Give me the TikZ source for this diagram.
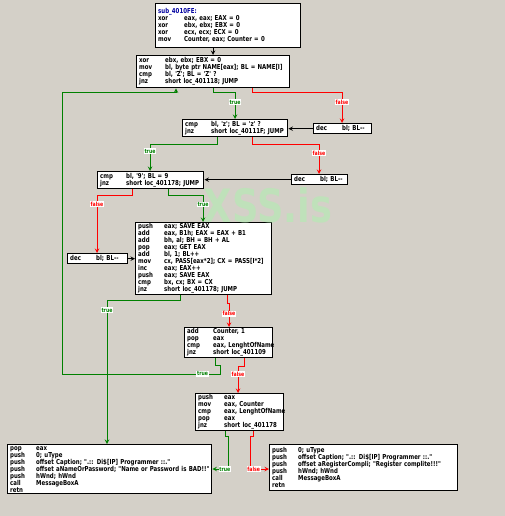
\documentclass[tikz,border=0pt]{standalone}
\usepackage{fontspec}
\usepackage{tikz}
\usepackage{xcolor}
\newfontfamily\idafont[FakeStretch=0.8]{DejaVu Sans}
\newcommand{\asmln}[2]{\makebox[26pt][l]{#1}\mbox{#2}}
\definecolor{idagray}{RGB}{212,208,200}
\definecolor{idagreen}{RGB}{0,128,0}
\definecolor{idared}{RGB}{255,0,0}
\definecolor{idablue}{RGB}{0,0,160}
\definecolor{idamint}{RGB}{175,240,175}

\begin{document}
\begin{tikzpicture}[x=1pt,y=-1pt,>=stealth]
	\tikzstyle{block} = [draw=black, line width=1.4, fill=white, anchor=north west, align=left, inner xsep=2.5pt, inner ysep=1pt, font=\idafont\bfseries\fontsize{6.8}{7}\selectfont]
	\tikzstyle{yes} = [draw=idagreen, line width=1, ->]
	\tikzstyle{no} = [draw=idared, line width=1, ->]
	\tikzstyle{flow} = [draw=black, line width=1, ->]
	\tikzstyle{tag} = [fill=white, inner sep=0.7pt, font=\idafont\bfseries\fontsize{5.8}{6}\selectfont]
	\fill[idagray] (0,0) rectangle (505,516);

		\node[block, text width=140, minimum height=44] (start) at (155,3) {{\color{idablue}sub\_4010FE:}\\
			\asmln{xor}{eax, eax; EAX = 0}\\
			\asmln{xor}{ebx, ebx; EBX = 0}\\
			\asmln{xor}{ecx, ecx; ECX = 0}\\
			\asmln{mov}{Counter, eax; Counter = 0}};
		\node[block, text width=148, minimum height=32] (cmpZ) at (136,55) {\asmln{xor}{ebx, ebx; EBX = 0}\\
			\asmln{mov}{bl, byte ptr NAME[eax]; BL = NAME[I]}\\
			\asmln{cmp}{bl, 'Z'; BL = 'Z' ?}\\
			\asmln{jnz}{short loc\_401118; JUMP}};
		\node[block, text width=100, minimum height=17] (cmpz) at (182,119) {\asmln{cmp}{bl, 'z'; BL = 'z' ?}\\
			\asmln{jnz}{short loc\_40111F; JUMP}};
		\node[block, text width=53, minimum height=10] (decZ) at (313,123) {\asmln{dec}{bl; BL-\mbox{}-}};
		\node[block, text width=101, minimum height=17] (cmp9) at (97,171) {\asmln{cmp}{bl, '9'; BL = 9}\\
			\asmln{jnz}{short loc\_401178; JUMP}};
		\node[block, text width=51, minimum height=10] (decz) at (291,174) {\asmln{dec}{bl; BL-\mbox{}-}};
		\node[block, text width=55, minimum height=10] (dec9) at (67,253) {\asmln{dec}{bl; BL-\mbox{}-}};
		\node[block, text width=131, minimum height=71] (calc) at (135,222) {\asmln{push}{eax; SAVE EAX}\\
			\asmln{add}{eax, B1h; EAX = EAX + B1}\\
			\asmln{add}{bh, al; BH = BH + AL}\\
			\asmln{pop}{eax; GET EAX}\\
			\asmln{add}{bl, 1; BL++}\\
			\asmln{mov}{cx, PASS[eax*2]; CX = PASS[I*2]}\\
			\asmln{inc}{eax; EAX++}\\
			\asmln{push}{eax; SAVE EAX}\\
			\asmln{cmp}{bx, cx; BX = CX}\\
			\asmln{jnz}{short loc\_401178; JUMP}};
		\node[block, text width=83, minimum height=30] (count) at (184,327) {\asmln{add}{Counter, 1}\\
			\asmln{pop}{eax}\\
			\asmln{cmp}{eax, LenghtOfName}\\
			\asmln{jnz}{short loc\_401109}};
		\node[block, text width=83, minimum height=35] (chkLen) at (195,393) {\asmln{push}{eax}\\
			\asmln{mov}{eax, Counter}\\
			\asmln{cmp}{eax, LenghtOfName}\\
			\asmln{pop}{eax}\\
			\asmln{jnz}{short loc\_401178}};
		\node[block, text width=199, minimum height=49] (bad) at (7,444) {\asmln{pop}{eax}\\
			\asmln{push}{0; uType}\\
			\asmln{push}{offset Caption; ".:: Di\$[IP] Programmer ::."}\\
			\asmln{push}{offset aNameOrPassword; "Name or Password is BAD!!"}\\
			\asmln{push}{hWnd; hWnd}\\
			\asmln{call}{MessageBoxA}\\
			\asmln{retn}{}};
		\node[block, text width=183, minimum height=46] (good) at (269,444) {\asmln{push}{0; uType}\\
			\asmln{push}{offset Caption; ".:: Di\$[IP] Programmer ::."}\\
			\asmln{push}{offset aRegisterCompli; "Register complite!!!"}\\
			\asmln{push}{hWnd; hWnd}\\
			\asmln{call}{MessageBoxA}\\
			\asmln{retn}{}};

		\draw[flow] (start.south -| 213,0) -- (cmpZ.north -| 213,0);
		\draw[yes] (cmpZ.south -| 213,0) -- (213,93) -- (235,93) -- node[tag, pos=0.35, text=idagreen] {true} (cmpz.north -| 235,0);
		\draw[no] (cmpZ.south -| 252,0) -- (252,93) -- (342,93) -- node[tag, pos=0.3, text=idared] {false} (decZ.north -| 342,0);
		\draw[flow] (decZ.west) -- (cmpz.east |- decZ.west);
		\draw[yes] (cmpz.south -| 217,0) -- (217,144) -- (150,144) -- node[tag, pos=0.26, text=idagreen] {true} (cmp9.north -| 150,0);
		\draw[no] (cmpz.south -| 252,0) -- (252,144) -- (319,144) -- node[tag, pos=0.3, text=idared] {false} (decz.north -| 319,0);
		\draw[flow] (decz.west) -- (cmp9.east |- decz.west);
		\draw[no] (cmp9.south -| 132,0) -- (132,195) -- (97,195) -- node[tag, pos=0.16, text=idared] {false} (dec9.north -| 97,0);
		\draw[yes] (cmp9.south -| 168,0) -- (168,195) -- (203,195) -- node[tag, pos=0.35, text=idagreen] {true} (calc.north -| 203,0);
		\draw[flow] (dec9.east) -- (calc.west |- dec9.east);
		\draw[yes] (calc.south -| 180,0) -- (180,300) -- (107,300) -- node[tag, pos=0.07, text=idagreen] {true} (bad.north -| 107,0);
		\draw[no] (calc.south -| 227,0) -- (227,303) -- (229,303) -- node[tag, pos=0.45, text=idared] {false} (count.north -| 229,0);
		\draw[yes] (count.south -| 215,0) -- (215,365) -- (220,365) -- (220,374) -- node[tag, pos=0.11, text=idagreen] {true} (62,374) -- (62,93) -- (176,93) -- (cmpZ.south -| 176,0);
		\draw[no] (count.south -| 244,0) -- (244,366) -- (238,366) -- node[tag, pos=0.3, text=idared] {false} (chkLen.north -| 238,0);
		\draw[yes] (chkLen.south -| 225,0) -- (225,436) -- (228,436) -- (228,469) -- node[tag, pos=0.2, text=idagreen] {true} (bad.east |- 0,469);
		\draw[no] (chkLen.south -| 253,0) -- (253,436) -- (250,436) -- (250,469) -- node[tag, pos=0.2, text=idared] {false} (good.west |- 0,469);

		\node[opacity=0.55, text=idamint, font=\idafont\bfseries\fontsize{46}{46}\selectfont] (mark) at (268,205) {XSS.is};
\end{tikzpicture}
\end{document}
